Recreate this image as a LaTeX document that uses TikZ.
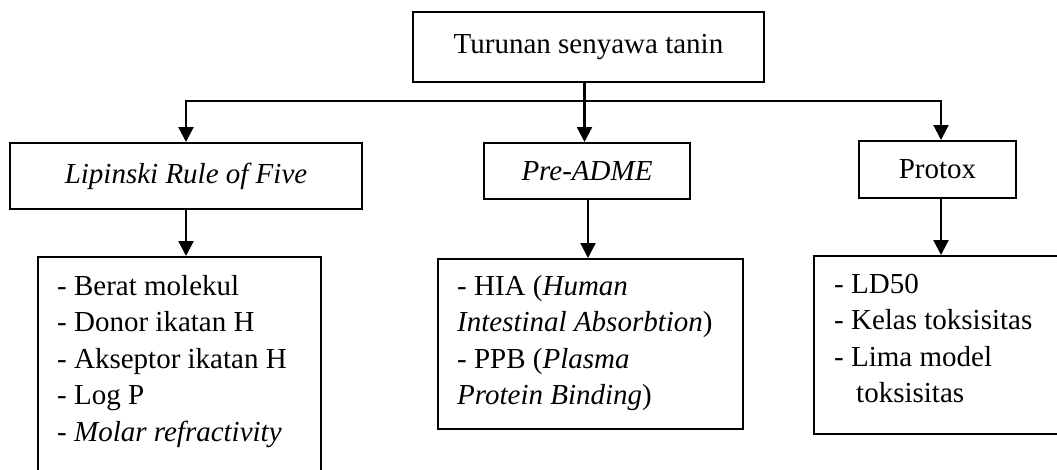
\documentclass[tikz,border=0pt]{standalone}
\usepackage{fontspec}
\setmainfont{Liberation Serif}
\usetikzlibrary{arrows.meta,calc}
\begin{document}
\begin{tikzpicture}[x=1pt,y=-1pt,
  every node/.style={font=\fontsize{29}{36.5}\selectfont},
  box/.style={draw, line width=2pt, inner sep=0pt, anchor=north west},
  txt/.style={inner sep=0pt, anchor=base west, align=left},
  arr/.style={line width=2.2pt, -{Triangle[length=15pt,width=15pt]}}]
\path[use as bounding box, clip] (0,0) rectangle (1057,469);
% top
\node[box, minimum width=351pt, minimum height=70pt] (top) at (412,11) {Turunan senyawa tanin};
% second row
\node[box, minimum width=352pt, minimum height=66pt] (lip) at (9,142) {\itshape Lipinski Rule of Five};
\node[box, minimum width=206pt, minimum height=56pt] (pre) at (483,142) {\itshape Pre-ADME};
\node[box, minimum width=157pt, minimum height=57pt] (px) at (858,140) {Protox};
% bottom boxes
\node[box, minimum width=283pt, minimum height=240pt] (lipb) at (37,256) {};
\node[box, minimum width=305pt, minimum height=170pt] (preb) at (437,258) {};
\node[box, minimum width=280pt, minimum height=178pt] (pxb) at (813,255) {};
% texts (base anchor = baseline of last line)
\node[txt] (lipt) at (57,441) {- Berat molekul\\- Donor ikatan H\\- Akseptor ikatan H\\- Log P\\- \textit{Molar refractivity}};
\node[txt] (pret) at (457,404.5) {- HIA (\textit{Human}\\\textit{Intestinal Absorbtion})\\- PPB (\textit{Plasma}\\\textit{Protein Binding})};
\node[txt] (pxt) at (834,402.5) {- LD50\\- Kelas toksisitas\\- Lima model\\\hspace*{22pt}toksisitas};
% connectors
\coordinate (hub) at ($(top.south)+(-4,18)$);
\draw[arr] ([xshift=-4pt]top.south) -- ([xshift=-4pt]top.south |- pre.north);
\draw[arr] (hub) -| (lip.north);
\draw[arr] (hub) -| ([xshift=3.5pt]px.north);
\draw[arr] (lip.south) -- (lip.south |- lipb.north);
\draw[arr] ([xshift=1pt]pre.south) -- ([xshift=1pt]pre.south |- preb.north);
\draw[arr] ([xshift=3.5pt]px.south) -- ([xshift=3.5pt]px.south |- pxb.north);
\end{tikzpicture}
\end{document}
